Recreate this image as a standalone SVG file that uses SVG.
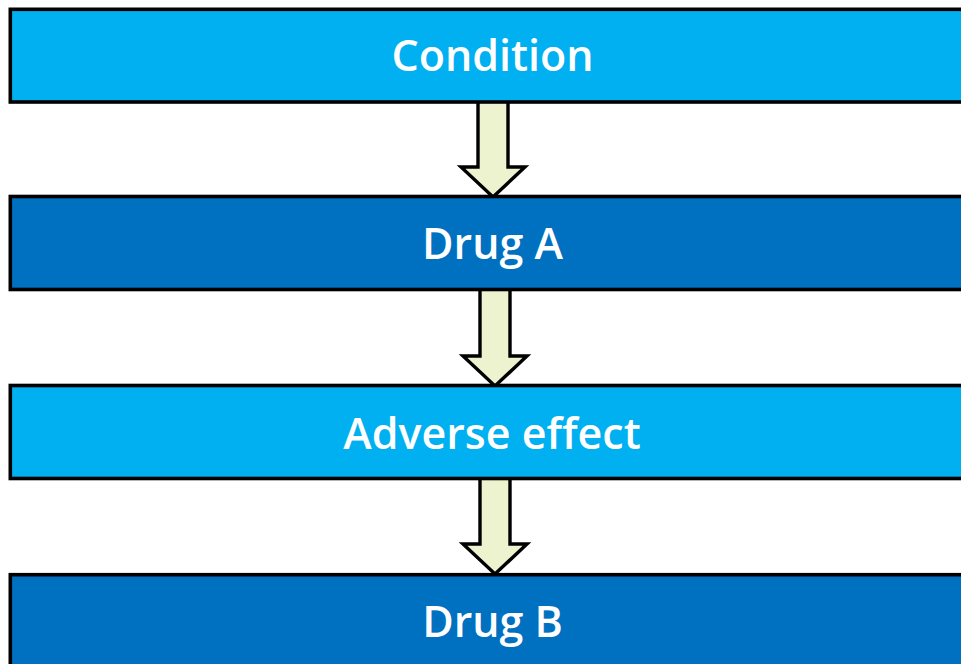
<svg xmlns="http://www.w3.org/2000/svg" width="961" height="664" viewBox="0 0 961 664">
  <style>
    .box { stroke: #000; stroke-width: 3.6; }
    .light { fill: #00B0F0; }
    .dark { fill: #0070C0; }
    .label { fill: #fff; font-family: "Open Sans", "Liberation Sans", sans-serif; font-weight: 600; font-size: 43px; text-anchor: middle; }
    .arrow { fill: #EEF3CF; stroke: #000; stroke-width: 3.4; stroke-linejoin: miter; }
  </style>
  <rect width="961" height="664" fill="#fff"/>
  <g id="connectors">
    <polygon class="arrow" points="478,100 508,100 508,167 525,167 493,197 461,167 478,167"/>
    <polygon class="arrow" points="480,288 510,288 510,356 527,356 495,386 463,356 480,356"/>
    <polygon class="arrow" points="480,477 510,477 510,544 527,544 495,574 463,544 480,544"/>
  </g>
  <g id="condition">
    <rect class="box light" x="10.3" y="9.3" width="965" height="92.7"/>
    <text class="label" x="492.5" y="71">Condition</text>
  </g>
  <g id="drug-a">
    <rect class="box dark" x="10.3" y="196.5" width="965" height="93"/>
    <text class="label" x="492.5" y="259">Drug A</text>
  </g>
  <g id="adverse-effect">
    <rect class="box light" x="10.3" y="385.5" width="965" height="93"/>
    <text class="label" x="492" y="448.5">Adverse effect</text>
  </g>
  <g id="drug-b">
    <rect class="box dark" x="10.3" y="574.7" width="965" height="93"/>
    <text class="label" x="492.5" y="637">Drug B</text>
  </g>
</svg>
